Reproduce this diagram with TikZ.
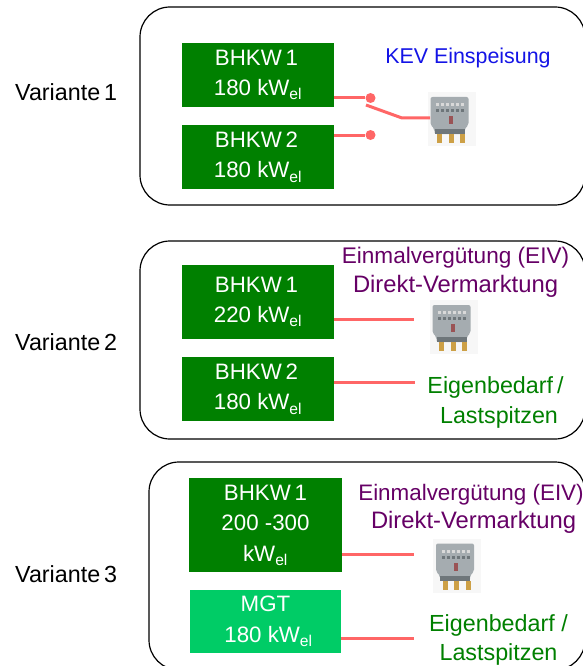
\documentclass[tikz,border=0pt]{standalone}
\usepackage{fontspec}
\setmainfont{Liberation Sans}
\definecolor{bhkwgreen}{RGB}{0,128,0}
\definecolor{mgtgreen}{RGB}{0,204,102}
\definecolor{linered}{RGB}{255,102,102}
\definecolor{kevblue}{RGB}{20,20,230}
\definecolor{eivpurple}{RGB}{102,0,102}
\definecolor{meterbody}{RGB}{165,172,176}
\definecolor{meterdark}{RGB}{110,118,122}
\definecolor{metergold}{RGB}{205,160,70}
\newcommand{\kwel}{kW\textsubscript{el}}
\newcommand{\wideline}{\fontsize{23.8}{28.5}\selectfont}
\tikzset{
    variant/.style={draw=black,line width=1.2pt,rounded corners=30pt,fill=white},
    unit/.style={fill=bhkwgreen,text=white,align=center,inner sep=0pt,font=\fontsize{22.3}{30.5}\selectfont},
    label/.style={align=center,inner sep=0pt,font=\fontsize{22.4}{28.5}\selectfont},
    varname/.style={inner sep=0pt,anchor=west,font=\fontsize{23.3}{28}\selectfont},
    usage/.style={label,text=bhkwgreen,font=\fontsize{23.3}{29.5}\selectfont},
    feed/.style={draw=linered,line width=3pt},
    contact/.style={circle,fill=linered,minimum size=10pt,inner sep=0pt},
    meter/.pic={
        \fill[black!3] (-24,-27) rectangle (24,27);
        \fill[meterbody,rounded corners=2pt] (-21,-22) -- (17,-22) -- (17,6) -- (13,10) -- (13,15) -- (-17,15) -- (-17,10) -- (-21,6) -- cycle;
        \fill[meterdark] (-17,10) rectangle (13,15);
        \foreach \x in {-14,-9,...,11} {
            \fill[white!85!black] (\x-1.5,-16) rectangle (\x+1.5,-13);
            \fill[meterdark] (\x-1.5,-10) rectangle (\x+1.5,-7);
        }
        \fill[meterdark!70!red] (-3,-3) rectangle (1,5);
        \foreach \x in {-12,-0.5,11} {
            \fill[metergold] (\x-2.5,15) rectangle (\x+2.5,24);
        }
    }
}
\begin{document}
\begin{tikzpicture}[x=1pt,y=-1pt]
    \useasboundingbox (0,0) rectangle (583,666);
    \clip (0,0) rectangle (583,666);
    % frames
    \draw[variant] (140,7) rectangle (585,205);
    \draw[variant] (140,241) rectangle (585,439);
    \draw[variant] (149,462) rectangle (585,670);
    \node[varname] (var1) at (15,92.5) {Variante\,1};
    \node[varname] (var2) at (15,342.5) {Variante\,2};
    \node[varname] (var3) at (15,574.5) {Variante\,3};
    % variant 1
    \node[unit,minimum width=152pt,minimum height=64pt] (bhkw11) at (258,75) {BHKW\,1\hspace*{3pt}\\180 \kwel};
    \node[unit,minimum width=152pt,minimum height=64pt] (bhkw12) at (258,157) {BHKW\,2\hspace*{3pt}\\180 \kwel};
    \node[contact] (dot1) at (370.5,98) {};
    \node[contact] (dot2) at (370.5,135) {};
    \coordinate (swtop) at (366,105);
    \coordinate (swmid) at (402,118);
    \coordinate (swend) at (430,118);
    \draw[feed] (bhkw11.east |- dot1) -- (dot1);
    \draw[feed] (bhkw12.east |- dot2) -- (dot2);
    \pic at (451.5,119) {meter};
    \draw[feed] (swtop) -- (swmid) -- (swend);
    \node[label,text=kevblue,font=\fontsize{21.4}{28}\selectfont] (kev) at (468,58) {KEV Einspeisung};
    % variant 2
    \node[unit,minimum width=152pt,minimum height=74pt] (bhkw21) at (258,302) {BHKW\,1\hspace*{3pt}\\220 \kwel};
    \node[unit,minimum width=152pt,minimum height=64pt] (bhkw22) at (258,389) {BHKW\,2\hspace*{3pt}\\180 \kwel};
    \coordinate (end21) at (414,319);
    \coordinate (end22) at (415,382);
    \draw[feed] (bhkw21.east |- end21) -- (end21);
    \draw[feed] (bhkw22.east |- end22) -- (end22);
    \pic at (453.5,327) {meter};
    \node[label,text=eivpurple,font=\fontsize{22.6}{28.5}\selectfont] (eiv2) at (455.5,272.5) {Einmalvergütung (EIV)\\\wideline Direkt-Vermarktung};
    \node[usage] (own2) at (495.5,402.5) {Eigenbedarf\,/\\\hspace*{7pt}Lastspitzen};
    % variant 3
    \node[unit,minimum width=153pt,minimum height=94pt] (bhkw31) at (265.5,525) {BHKW\,1\\200 -300\\\kwel};
    \node[unit,fill=mgtgreen,minimum width=151pt,minimum height=63pt] (mgt) at (265.5,621.5) {MGT\\\hspace*{6pt}180 \kwel};
    \coordinate (end31) at (414,554.5);
    \coordinate (end32) at (414,638.5);
    \draw[feed] (bhkw31.east |- end31) -- (end31);
    \draw[feed] (mgt.east |- end32) -- (end32);
    \pic at (457,565.5) {meter};
    \node[label,text=eivpurple] (eiv3) at (471,509) {Einmalvergütung (EIV)\\\hspace*{5pt}\wideline Direkt-Vermarktung};
    \node[usage] (own3) at (498.5,640) {Eigenbedarf /\\Lastspitzen};
\end{tikzpicture}
\end{document}
